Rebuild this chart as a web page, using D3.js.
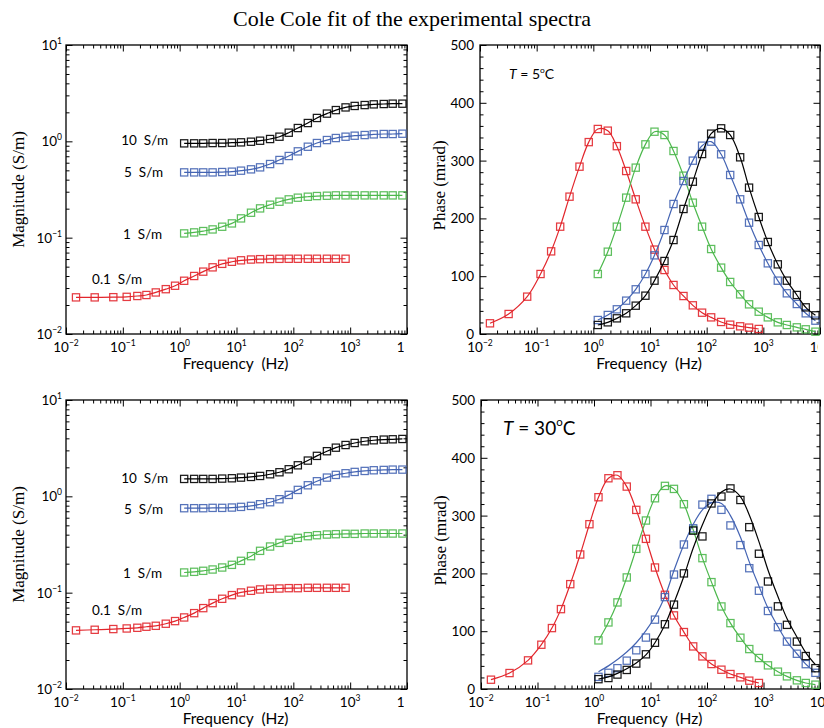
<!DOCTYPE html>
<html><head><meta charset="utf-8">
<script src="https://cdn.jsdelivr.net/npm/d3@7/dist/d3.min.js"></script>
<style>body{margin:0;background:#fff}svg{display:block}</style>
</head><body>
<script>
// ---------------- data ----------------
const titleText = "Cole Cole fit of the experimental spectra";
const conductivities = ["0.1", "1", "5", "10"];
const condLabels = ["0.1  S/m", "1  S/m", "5  S/m", "10  S/m"];
const tempLabels = ["5", "30"];

// frequencies (Hz)
const freqLow = [0.015, 0.032, 0.068, 0.117, 0.18, 0.26, 0.38, 0.57, 0.83, 1.2, 1.8, 2.6, 3.8, 5.6, 8.3, 12, 18, 26, 39, 57, 83, 120, 180, 260, 390, 560, 830];
const freqHigh = [1.2, 1.8, 2.6, 3.8, 5.6, 8.3, 12, 18, 26, 39, 57, 83, 120, 180, 260, 390, 560, 830, 1200, 1800, 2600, 3900, 5600, 8300];

// tick labels
const xTickExps = [-2, -1, 0, 1, 2, 3, 4];
const magTickExps = [-2, -1, 0, 1];
const phaseTicks = [0, 100, 200, 300, 400, 500];

// magnitude (S/m), T = 5 C
const mag5_01 = [0.0240, 0.0240, 0.0241, 0.0243, 0.0248, 0.0254, 0.0270, 0.0292, 0.0317, 0.0357, 0.0400, 0.0444, 0.0492, 0.0535, 0.0562, 0.0582, 0.0593, 0.0598, 0.0601, 0.0603, 0.0604, 0.0604, 0.0604, 0.0604, 0.0604, 0.0604, 0.0604];
const mag5_1 = [0.1107, 0.1134, 0.1171, 0.1218, 0.1299, 0.1406, 0.1585, 0.1815, 0.2013, 0.2198, 0.2362, 0.2497, 0.260, 0.266, 0.2704, 0.2725, 0.2748, 0.2748, 0.2748, 0.2748, 0.2748, 0.2748, 0.2748, 0.2748];
const mag5_5 = [0.476, 0.476, 0.476, 0.476, 0.480, 0.484, 0.496, 0.512, 0.537, 0.581, 0.640, 0.704, 0.787, 0.879, 0.960, 1.031, 1.082, 1.117, 1.144, 1.162, 1.181, 1.191, 1.191, 1.20];
const mag5_10 = [0.953, 0.953, 0.953, 0.960, 0.960, 0.968, 0.976, 0.991, 1.015, 1.057, 1.117, 1.229, 1.374, 1.549, 1.748, 1.94, 2.11, 2.25, 2.33, 2.38, 2.42, 2.44, 2.46, 2.46];

// magnitude (S/m), T = 30 C
const mag30_01 = [0.0406, 0.0412, 0.0419, 0.0425, 0.0432, 0.0443, 0.0453, 0.0476, 0.0507, 0.0553, 0.0613, 0.0691, 0.0779, 0.0864, 0.0943, 0.1005, 0.1046, 0.108, 0.1097, 0.1105, 0.1114, 0.1114, 0.1123, 0.1123, 0.1123, 0.1123, 0.1123];
const mag30_1 = [0.162, 0.1646, 0.1686, 0.174, 0.1825, 0.1945, 0.214, 0.2393, 0.2718, 0.3013, 0.329, 0.3533, 0.3707, 0.3858, 0.3951, 0.4014, 0.4046, 0.4079, 0.4079, 0.4112, 0.4112, 0.4112, 0.4112, 0.4112];
const mag30_5 = [0.753, 0.753, 0.753, 0.759, 0.759, 0.765, 0.777, 0.796, 0.828, 0.869, 0.933, 1.035, 1.166, 1.303, 1.434, 1.565, 1.669, 1.736, 1.792, 1.835, 1.865, 1.879, 1.894, 1.894];
const mag30_10 = [1.516, 1.516, 1.516, 1.516, 1.528, 1.540, 1.565, 1.590, 1.628, 1.695, 1.778, 1.91, 2.10, 2.35, 2.63, 2.94, 3.20, 3.41, 3.58, 3.73, 3.82, 3.88, 3.91, 3.94];

// phase (mrad), T = 5 C
const phase5_01 = [18.5, 34.6, 64.6, 103.8, 143, 185.7, 237.6, 289.5, 332, 354.7, 351.8, 325, 282, 233, 185.7, 146, 110.7, 84.8, 65.7, 49.6, 36.9, 28.8, 20.8, 16.1, 13.3, 11, 8.7];
const phase5_1 = [103.8, 142.4, 185.7, 235.9, 287.8, 328.1, 350, 344.3, 316.6, 273.9, 227.2, 185.7, 147, 114.8, 90, 68.6, 51.3, 38.6, 28.8, 20.2, 15.6, 11.5, 8.1, 4];
const phase5_5 = [24.2, 32.9, 42.7, 57.7, 77.3, 103.8, 136.1, 179.9, 224.9, 264.7, 299.9, 325.8, 332.8, 310.9, 275.1, 233, 192.6, 154, 122.3, 92.3, 70.4, 51.9, 35.8, 23.1];
const phase5_10 = [15.6, 20.2, 27.1, 35.8, 49, 66.3, 92.3, 126.3, 162.6, 216.3, 263.5, 311.4, 346.6, 355.8, 344.3, 305.7, 253.2, 202.4, 159.2, 120.5, 92.3, 67.5, 46.1, 32.3];

// phase (mrad), T = 30 C
const phase30_01 = [16.1, 27.6, 49.5, 76.6, 105.4, 138.2, 181.4, 232.7, 285.1, 331.8, 364.6, 369.8, 350.2, 309.9, 259.8, 210.2, 163, 127.3, 98.5, 73.7, 56.4, 43.2, 33.4, 25.9, 20.2, 14.4, 10.4];
const phase30_1 = [84.1, 115.2, 149.8, 193, 242.5, 291.5, 330, 351.4, 346.2, 319.7, 275.3, 226.4, 184.9, 142.8, 114, 88.7, 69.1, 53.6, 40.9, 30, 21.9, 15, 10.4, 7.5];
const phase30_5 = [21, 28, 36, 49, 67, 89, 120, 159, 198, 250, 278, 319, 329, 310, 283, 249, 209, 170, 135, 107, 82, 61, 43, 28];
const phase30_10 = [17, 19, 25, 33, 44, 60, 80, 112, 146, 200, 274, 264, 321, 333, 347, 327, 280, 234, 186, 143, 111, 82, 57, 36];
const fit30_5 = [30, 40, 51, 64, 80, 101, 125, 160, 205, 250, 285, 310, 322, 321, 300, 263, 220, 178, 140, 108, 82, 61, 43, 29];
const fit30_10 = [17, 21, 27, 35, 45, 59, 80, 111, 149, 195, 244, 284, 318, 341, 346, 333, 301, 255, 206, 160, 122, 90, 63, 42];

// ---------------- styles ----------------
const colors = {"0.1": "#e2262c", "1": "#4cb84c", "5": "#4464b3", "10": "#000000"};
const SANS = "Lato, 'Liberation Sans', sans-serif";
const SERIF = "'Liberation Serif', 'Times New Roman', serif";

const W = 824, H = 728;
const svg = d3.select("body").append("svg").attr("width", W).attr("height", H);

svg.append("text").attr("x", 412).attr("y", 26).attr("text-anchor", "middle")
  .attr("font-family", SERIF).attr("font-size", 22).text(titleText);

function mk(freqs, vals, fit) {
  return freqs.map((f, i) => ({f, v: vals[i], fv: fit ? fit[i] : vals[i]}));
}

const panels = [
  {kind: "mag", x0: 66, x1: 407, y0: 45, y1: 334, clipR: 404,
   series: [["0.1", mk(freqLow, mag5_01)], ["1", mk(freqHigh, mag5_1)], ["5", mk(freqHigh, mag5_5)], ["10", mk(freqHigh, mag5_10)]],
   labels: [[142, 284], [162, 239], [163, 177], [168, 145]]},
  {kind: "phase", x0: 480, x1: 820, y0: 45, y1: 334, clipR: 818, temp: 0, tx: 509, ty: 79, tsize: 14,
   series: [["0.1", mk(freqLow, phase5_01)], ["1", mk(freqHigh, phase5_1)], ["5", mk(freqHigh, phase5_5)], ["10", mk(freqHigh, phase5_10)]]},
  {kind: "mag", x0: 66, x1: 407, y0: 400, y1: 689, clipR: 404,
   series: [["0.1", mk(freqLow, mag30_01)], ["1", mk(freqHigh, mag30_1)], ["5", mk(freqHigh, mag30_5)], ["10", mk(freqHigh, mag30_10)]],
   labels: [[142, 615], [162, 578], [163, 514], [168, 483]]},
  {kind: "phase", x0: 481, x1: 820, y0: 400, y1: 689, clipR: 840, temp: 1, tx: 503, ty: 435, tsize: 19,
   series: [["0.1", mk(freqLow, phase30_01)], ["1", mk(freqHigh, phase30_1)], ["5", mk(freqHigh, phase30_5, fit30_5)], ["10", mk(freqHigh, phase30_10, fit30_10)]]}
];

const xMajor = xTickExps.map(e => Math.pow(10, e));
const xMinor = [];
xTickExps.slice(0, -1).forEach(e => { for (let k = 2; k <= 9; k++) xMinor.push(k * Math.pow(10, e)); });
const magMajor = magTickExps.map(e => Math.pow(10, e));
const magMinor = [];
magTickExps.slice(0, -1).forEach(e => { for (let k = 2; k <= 9; k++) magMinor.push(k * Math.pow(10, e)); });
const phaseMinor = d3.range(0, 501, 20).filter(v => v % 100 !== 0);

panels.forEach((p, pi) => {
  const g = svg.append("g");
  const x = d3.scaleLog().domain([1e-2, 1e4]).range([p.x0, p.x1]);
  const y = p.kind === "mag"
    ? d3.scaleLog().domain([1e-2, 1e1]).range([p.y1, p.y0])
    : d3.scaleLinear().domain([0, 500]).range([p.y1, p.y0]);

  function ax(fn, scale, vals, size, tr) {
    g.append("g").attr("transform", tr)
      .call(fn(scale).tickValues(vals).tickSize(size).tickFormat(() => ""))
      .call(s => s.select(".domain").remove())
      .call(s => s.selectAll("line").attr("stroke-width", 1));
  }
  ax(d3.axisBottom, x, xMajor, -6.5, `translate(0,${p.y1})`);
  ax(d3.axisBottom, x, xMinor, -3.5, `translate(0,${p.y1})`);
  ax(d3.axisTop, x, xMajor, -6.5, `translate(0,${p.y0})`);
  ax(d3.axisTop, x, xMinor, -3.5, `translate(0,${p.y0})`);
  const yMaj = p.kind === "mag" ? magMajor : phaseTicks;
  const yMin = p.kind === "mag" ? magMinor : phaseMinor;
  ax(d3.axisLeft, y, yMaj, -6.5, `translate(${p.x0},0)`);
  ax(d3.axisLeft, y, yMin, -3.5, `translate(${p.x0},0)`);
  ax(d3.axisRight, y, yMaj, -6.5, `translate(${p.x1},0)`);
  ax(d3.axisRight, y, yMin, -3.5, `translate(${p.x1},0)`);

  g.append("rect").attr("x", p.x0).attr("y", p.y0).attr("width", p.x1 - p.x0).attr("height", p.y1 - p.y0)
    .attr("fill", "none").attr("stroke", "#000").attr("stroke-width", 1.3);

  // x tick labels (clipped like the reference)
  const cid = "clip" + pi;
  svg.append("clipPath").attr("id", cid).append("rect")
    .attr("x", p.x0 - 40).attr("y", p.y1).attr("width", p.clipR - p.x0 + 40).attr("height", 30);
  const xl = g.append("g").attr("clip-path", `url(#${cid})`);
  xTickExps.forEach(e => {
    const t = xl.append("text").attr("x", x(Math.pow(10, e))).attr("y", p.y1 + 18)
      .attr("text-anchor", "middle").attr("font-family", SANS).attr("font-size", 13.5);
    t.append("tspan").text("10");
    t.append("tspan").attr("dy", -6).attr("font-size", 8.5).text(e < 0 ? "\u2212" + (-e) : String(e));
  });
  g.append("text").attr("x", (p.x0 + p.x1) / 2 - 1).attr("y", p.y1 + 35).attr("text-anchor", "middle")
    .attr("font-family", SANS).attr("font-size", 15.5).attr("xml:space", "preserve").style("white-space", "pre")
    .text("Frequency  (Hz)");

  // y tick labels
  if (p.kind === "mag") {
    magTickExps.forEach(e => {
      const t = g.append("text").attr("x", p.x0 - 4).attr("y", y(Math.pow(10, e)) + 5)
        .attr("text-anchor", "end").attr("font-family", SANS).attr("font-size", 13.5);
      t.append("tspan").text("10");
      t.append("tspan").attr("dy", -6).attr("font-size", 8.5).text(e < 0 ? "\u2212" + (-e) : String(e));
    });
    g.append("text").attr("transform", `translate(${p.x0 - 42},${(p.y0 + p.y1) / 2}) rotate(-90)`)
      .attr("text-anchor", "middle").attr("font-family", SERIF).attr("font-size", 17).text("Magnitude (S/m)");
  } else {
    phaseTicks.forEach(v => {
      g.append("text").attr("x", p.x0 - 6).attr("y", y(v) + 5).attr("text-anchor", "end")
        .attr("font-family", SANS).attr("font-size", 13.5).text(v);
    });
    g.append("text").attr("transform", `translate(${p.x0 - 35},${(p.y0 + p.y1) / 2 - 4}) rotate(-90)`)
      .attr("text-anchor", "middle").attr("font-family", SERIF).attr("font-size", 17).text("Phase (mrad)");
    const t = g.append("text").attr("x", p.tx).attr("y", p.ty).attr("font-family", SANS).attr("font-size", p.tsize);
    t.append("tspan").attr("font-style", "italic").text("T");
    t.append("tspan").text(" = " + tempLabels[p.temp]);
    t.append("tspan").attr("dy", -p.tsize * 0.45).attr("font-size", p.tsize * 0.6).text("o");
    t.append("tspan").attr("dy", p.tsize * 0.45).text("C");
  }

  // series
  const line = d3.line().x(d => x(d.f)).y(d => y(d.fv)).curve(d3.curveCatmullRom.alpha(0.5));
  p.series.forEach(([c, pts]) => {
    g.append("path").datum(pts).attr("d", line).attr("fill", "none")
      .attr("stroke", colors[c]).attr("stroke-width", 1.2);
    g.append("g").selectAll("rect").data(pts).join("rect")
      .attr("x", d => x(d.f) - 3.6).attr("y", d => y(d.v) - 3.6)
      .attr("width", 7.2).attr("height", 7.2).attr("fill", "none")
      .attr("stroke", colors[c]).attr("stroke-width", 1.25).attr("stroke-opacity", 0.9);
  });

  if (p.labels) {
    conductivities.forEach((c, i) => {
      g.append("text").attr("x", p.labels[i][0]).attr("y", p.labels[i][1]).attr("text-anchor", "end")
        .attr("font-family", SANS).attr("font-size", 13.5).attr("xml:space", "preserve").style("white-space", "pre")
        .text(condLabels[i]);
    });
  }
});
</script>
</body></html>
